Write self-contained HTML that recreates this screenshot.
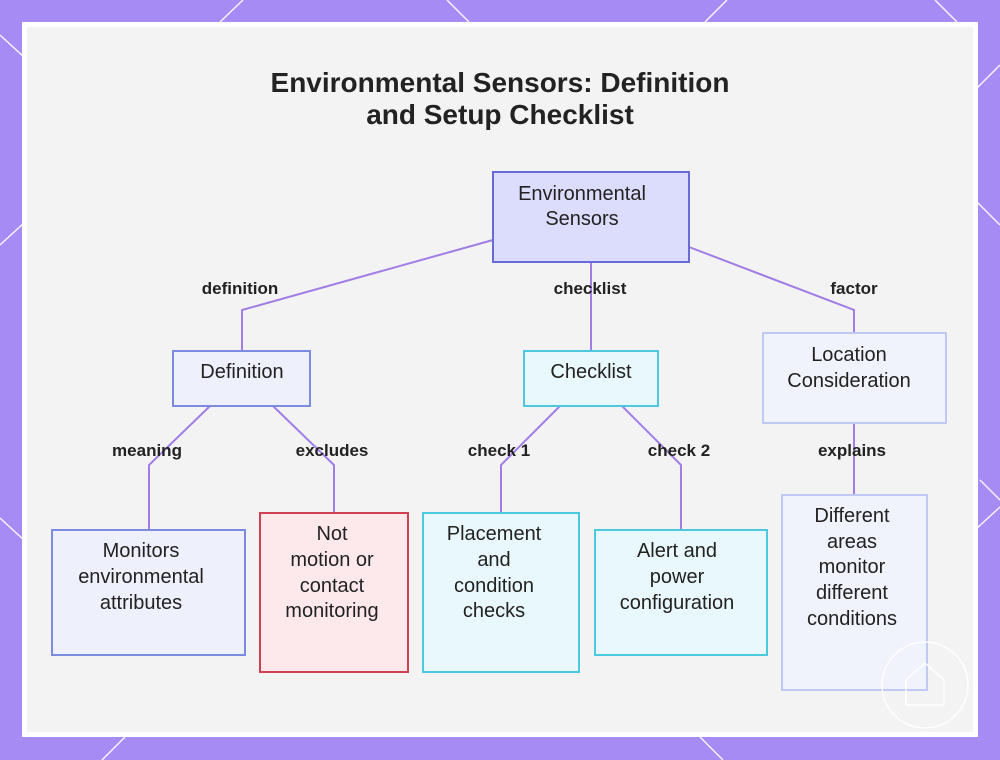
<!DOCTYPE html>
<html><head><meta charset="utf-8"><style>
body{margin:0;width:1000px;height:760px;background:#a78bf5;position:relative;overflow:hidden;font-family:"Liberation Sans",sans-serif}
#panel{position:absolute;left:22px;top:22px;width:956px;height:715px;background:#fff}
#inner{position:absolute;left:27px;top:27px;width:946px;height:705px;background:#f3f3f3}
svg{position:absolute;left:0;top:0}
</style></head><body>
<svg width="1000" height="760">
<g stroke="#fff" stroke-width="1.5" opacity="0.9">
<line x1="0" y1="35" x2="25" y2="58"/><line x1="0" y1="245" x2="25" y2="222"/>
<line x1="220" y1="22" x2="243" y2="0"/><line x1="447" y1="0" x2="469" y2="22"/>
<line x1="705" y1="22" x2="727" y2="0"/><line x1="935" y1="0" x2="957" y2="22"/>
<line x1="975" y1="200" x2="1000" y2="225"/><line x1="975" y1="90" x2="1000" y2="65"/>
<line x1="0" y1="518" x2="25" y2="541"/><line x1="975" y1="530" x2="1000" y2="507"/>
<line x1="102" y1="760" x2="125" y2="737"/><line x1="700" y1="737" x2="723" y2="760"/>
<line x1="980" y1="480" x2="1000" y2="500"/>
</g></svg>
<div id="panel"></div><div id="inner"></div>
<svg width="1000" height="760" font-family="Liberation Sans, sans-serif">
<text x="500" y="92" text-anchor="middle" font-size="28" font-weight="bold" fill="#222">Environmental Sensors: Definition</text>
<text x="500" y="124" text-anchor="middle" font-size="28" font-weight="bold" fill="#222">and Setup Checklist</text>
<g stroke="#a07ee6" stroke-width="2" fill="none">
<polyline points="493,240 242,310 242,351"/>
<line x1="591" y1="262" x2="591" y2="351"/>
<polyline points="689,247 854,310 854,333"/>
<polyline points="210,406 149,465 149,530"/>
<polyline points="273,406 334,465 334,513"/>
<polyline points="560,406 501,465 501,513"/>
<polyline points="622,406 681,465 681,530"/>
<line x1="854" y1="423" x2="854" y2="495"/>
</g>
<g font-size="17" font-weight="bold" fill="#222" text-anchor="middle">
<text x="240" y="294">definition</text><text x="590" y="294">checklist</text><text x="854" y="294">factor</text>
<text x="147" y="456">meaning</text><text x="332" y="456">excludes</text>
<text x="499" y="456">check 1</text><text x="679" y="456">check 2</text><text x="852" y="456">explains</text>
</g>
<g stroke-width="2">
<rect x="493" y="172" width="196" height="90" fill="#dcdcfc" stroke="#6a6ad6"/>
<rect x="173" y="351" width="137" height="55" fill="#eef0fc" stroke="#7b8ce0"/>
<rect x="524" y="351" width="134" height="55" fill="#e8f8fc" stroke="#4cc8e0"/>
<rect x="763" y="333" width="183" height="90" fill="#f0f2fc" stroke="#c0c8f4"/>
<rect x="52" y="530" width="193" height="125" fill="#eef0fc" stroke="#7b8ce0"/>
<rect x="260" y="513" width="148" height="159" fill="#fde8ec" stroke="#d04050"/>
<rect x="423" y="513" width="156" height="159" fill="#e8f8fc" stroke="#4cc8e0"/>
<rect x="595" y="530" width="172" height="125" fill="#e8f8fc" stroke="#4cc8e0"/>
<rect x="782" y="495" width="145" height="195" fill="#f0f2fc" stroke="#c0c8f4"/>
</g>
<g font-size="20" fill="#222" text-anchor="middle">
<text x="582" y="200">Environmental</text><text x="582" y="225">Sensors</text>
<text x="242" y="378">Definition</text>
<text x="591" y="378">Checklist</text>
<text x="849" y="361">Location</text><text x="849" y="387">Consideration</text>
<text x="141" y="557">Monitors</text><text x="141" y="583">environmental</text><text x="141" y="609">attributes</text>
<text x="332" y="540">Not</text><text x="332" y="566">motion or</text><text x="332" y="592">contact</text><text x="332" y="617">monitoring</text>
<text x="494" y="540">Placement</text><text x="494" y="566">and</text><text x="494" y="592">condition</text><text x="494" y="617">checks</text>
<text x="677" y="557">Alert and</text><text x="677" y="583">power</text><text x="677" y="609">configuration</text>
<text x="852" y="522">Different</text><text x="852" y="548">areas</text><text x="852" y="573">monitor</text><text x="852" y="599">different</text><text x="852" y="625">conditions</text>
</g>
<g stroke="#fff" stroke-width="1.5" fill="none">
<circle cx="925" cy="685" r="43"/>
<polyline points="906,705 906,680 925,663 944,680 944,705 906,705"/>
</g>
</svg>
</body></html>
